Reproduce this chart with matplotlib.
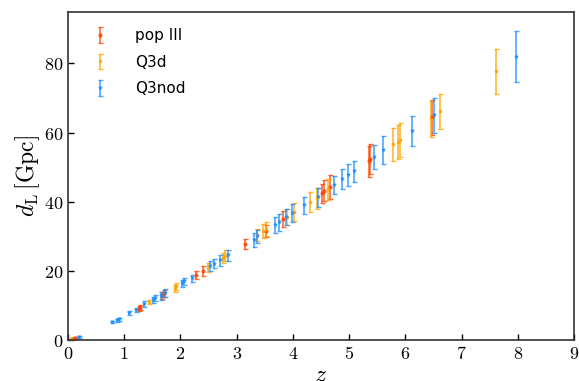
import matplotlib
matplotlib.use("Agg")
import matplotlib.pyplot as plt

plt.rcParams['mathtext.fontset'] = 'cm'
plt.rcParams['font.family'] = 'DejaVu Sans'

# pop III
z_pop3 = [0.07, 0.12, 1.26, 1.28, 1.68, 1.71, 2.28, 2.40, 3.15, 3.52, 3.83, 4.52, 4.56, 4.66, 5.36, 5.38, 6.48]
d_pop3 = [0.3, 0.6, 9.0, 9.4, 13.0, 13.5, 18.8, 20.0, 27.8, 31.5, 35.0, 42.4, 43.2, 44.2, 51.7, 52.3, 64.4]
e_pop3 = [0.2, 0.3, 0.7, 0.7, 1.0, 1.1, 1.2, 1.4, 1.4, 1.8, 2.2, 2.8, 3.0, 3.4, 4.5, 4.3, 5.0]

# Q3d
z_q3d = [0.05, 1.44, 1.90, 1.93, 2.49, 2.76, 2.80, 3.36, 3.47, 3.52, 3.90, 4.02, 4.31, 4.43, 4.63, 5.78, 5.87, 5.90, 6.46, 6.62, 7.62]
d_q3d = [0.2, 11.0, 15.0, 15.6, 21.0, 23.8, 24.4, 30.3, 31.6, 32.2, 35.5, 37.0, 39.9, 41.0, 43.6, 56.6, 57.4, 57.9, 64.0, 66.1, 77.7]
e_q3d = [0.2, 0.6, 1.0, 1.0, 1.2, 1.5, 1.5, 1.8, 2.0, 2.0, 2.3, 2.6, 2.9, 3.0, 3.1, 4.8, 4.9, 5.0, 5.2, 5.1, 6.4]

# Q3nod
z_q3nod = [0.20, 0.78, 0.87, 0.90, 1.09, 1.21, 1.35, 1.52, 1.55, 1.65, 1.73, 2.03, 2.06, 2.20, 2.53, 2.60, 2.70, 2.85,
           3.30, 3.36, 3.68, 3.75, 3.88, 3.98, 4.20, 4.45, 4.73, 4.87, 4.98, 5.09, 5.44, 5.60, 6.12, 6.51, 7.97]
d_q3nod = [0.9, 5.2, 5.7, 6.0, 7.8, 8.7, 10.4, 11.6, 12.1, 12.7, 13.6, 16.4, 17.0, 17.9, 21.4, 22.0, 23.1, 24.5,
           29.0, 30.0, 33.2, 34.0, 35.5, 36.7, 39.0, 41.3, 44.8, 46.5, 47.7, 48.8, 52.9, 54.9, 60.4, 65.0, 82.0]
e_q3nod = [0.3, 0.3, 0.4, 0.4, 0.6, 0.7, 0.8, 0.8, 0.8, 1.1, 1.2, 1.0, 1.0, 1.0, 1.4, 1.3, 1.6, 1.6,
           2.0, 1.8, 2.3, 2.4, 2.3, 2.5, 2.5, 2.8, 2.7, 2.9, 3.2, 3.0, 3.5, 4.0, 4.4, 5.0, 7.5]

fig = plt.figure(figsize=(5.79, 3.81), dpi=100)
ax = fig.add_axes([0.1174, 0.1076, 0.874, 0.862])

ax.errorbar(z_pop3, d_pop3, yerr=e_pop3, fmt='o', color='orangered', ms=2, elinewidth=1.2,
            capsize=1.8, alpha=0.8, label='pop III')
ax.errorbar(z_q3d, d_q3d, yerr=e_q3d, fmt='s', color='orange', ms=2, elinewidth=1.2,
            capsize=1.8, alpha=0.8, label='Q3d')
ax.errorbar(z_q3nod, d_q3nod, yerr=e_q3nod, fmt='v', color='dodgerblue', ms=2, elinewidth=1.2,
            capsize=1.8, alpha=0.8, label='Q3nod')

ax.set_xlim(0, 9)
ax.set_ylim(0, 95)
ax.set_xticks(range(0, 10))
ax.set_yticks([0, 20, 40, 60, 80])
ax.set_xticklabels(['$%d$' % v for v in range(0, 10)], fontsize=13)
ax.set_yticklabels(['$%d$' % v for v in [0, 20, 40, 60, 80]], fontsize=13)
ax.tick_params(direction='in', length=4, width=1)
for s in ax.spines.values():
    s.set_color('#333333')
    s.set_linewidth(1.2)

ax.set_xlabel('$z$', fontsize=17, labelpad=0)
ax.set_ylabel(r'$d_{\rm L}\,[{\rm Gpc}]$', fontsize=17, labelpad=1)

ax.legend(loc='upper left', frameon=False, fontsize=11, handletextpad=1.3,
          borderaxespad=0.7, labelspacing=0.75)

fig.savefig('out.png', dpi=100)
